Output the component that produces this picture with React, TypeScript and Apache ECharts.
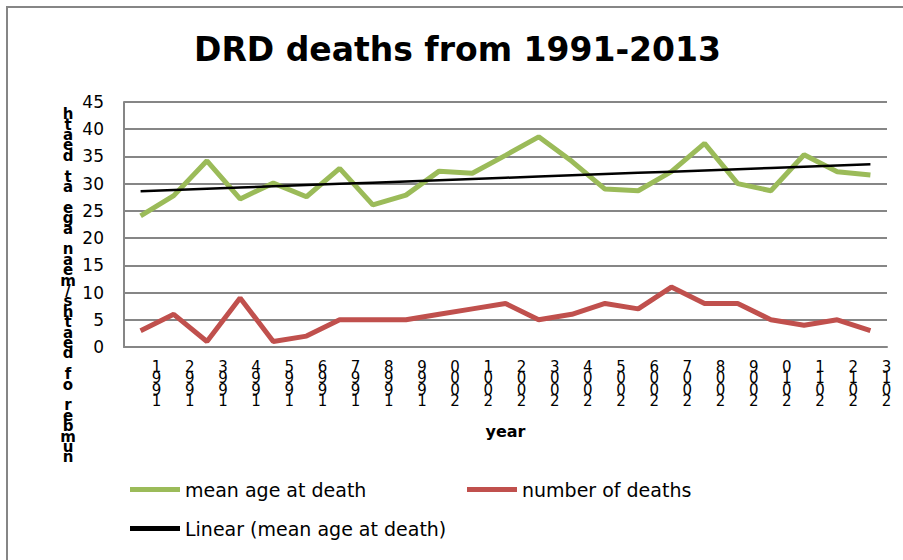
import React, { useEffect, useRef } from 'react';
import * as echarts from 'echarts';

const years = ['1991', '1992', '1993', '1994', '1995', '1996', '1997', '1998', '1999', '2000', '2001', '2002', '2003', '2004', '2005', '2006', '2007', '2008', '2009', '2010', '2011', '2012', '2013'];
const meanAgeAtDeath = [24.1, 27.8, 34.2, 27.2, 30.1, 27.6, 32.8, 26.1, 27.9, 32.3, 31.9, 35.2, 38.6, 34.1, 29.0, 28.7, 32.2, 37.4, 30.0, 28.7, 35.3, 32.2, 31.6];
const numberOfDeaths = [3, 6, 1, 9, 1, 2, 5, 5, 5, 6, 7, 8, 5, 6, 8, 7, 11, 8, 8, 5, 4, 5, 3];
const yMin = 0;
const yMax = 45;
const yStep = 5;

const titleText = 'DRD deaths from 1991-2013';
const yAxisTitle = 'number of deaths/mean age at death';
const xAxisTitle = 'year';
const nameMean = 'mean age at death';
const nameDeaths = 'number of deaths';
const nameTrend = 'Linear (mean age at death)';

// least-squares linear trend of the mean age series (Excel "Linear" trendline)
function linearTrend(vals: number[]): number[] {
  const n = vals.length;
  let sx = 0, sy = 0, sxx = 0, sxy = 0;
  vals.forEach((v, i) => { sx += i; sy += v; sxx += i * i; sxy += i * v; });
  const b = (n * sxy - sx * sy) / (n * sxx - sx * sx);
  const a = (sy - b * sx) / n;
  return vals.map((_, i) => +(a + b * i).toFixed(3));
}

const FONT = '"DejaVu Sans", sans-serif';

export default function App() {
  const ref = useRef<HTMLDivElement>(null);
  useEffect(() => {
    document.body.style.margin = '0';
    if (!ref.current) return;
    const chart = echarts.init(ref.current, null, { renderer: 'svg' });
    const trend = linearTrend(meanAgeAtDeath);
    const legendBase = {
      icon: 'rect',
      itemWidth: 50,
      itemHeight: 5,
      padding: 0,
      itemGap: 0,
      selectedMode: false,
      textStyle: { fontFamily: FONT, fontSize: 19, color: '#000' },
    };
    chart.setOption({
      animation: false,
      backgroundColor: '#fff',
      title: {
        text: titleText,
        left: 194,
        top: 33,
        padding: 0,
        textStyle: { fontFamily: FONT, fontSize: 33, fontWeight: 'bold', color: '#000' },
      },
      legend: [
        { ...legendBase, left: 130, top: 480, data: [nameMean] },
        { ...legendBase, left: 467, top: 480, data: [nameDeaths] },
        { ...legendBase, left: 130, top: 519, data: [nameTrend] },
      ],
      grid: { left: 124, right: 16, top: 102, bottom: 213, containLabel: false },
      xAxis: {
        type: 'category',
        data: years,
        boundaryGap: true,
        name: xAxisTitle,
        nameLocation: 'middle',
        nameGap: 76,
        nameTextStyle: { fontFamily: FONT, fontSize: 16, fontWeight: 'bold', color: '#000' },
        axisLine: { show: true, lineStyle: { color: '#868686', width: 2 } },
        axisTick: { show: false },
        axisLabel: {
          interval: 0,
          formatter: (v: string) => v.split('').reverse().join('\n'),
          fontFamily: FONT,
          fontSize: 15,
          lineHeight: 11.5,
          margin: 14,
          padding: [0, 0, 0, 32],
          color: '#000',
        },
        splitLine: { show: false },
      },
      yAxis: {
        type: 'value',
        min: yMin,
        max: yMax,
        interval: yStep,
        axisLine: { show: true, lineStyle: { color: '#868686', width: 2 } },
        axisTick: { show: false },
        axisLabel: { fontFamily: FONT, fontSize: 17, margin: 20, color: '#000' },
        splitLine: { show: true, lineStyle: { color: '#868686', width: 2 } },
      },
      graphic: [
        {
          type: 'rect',
          silent: true,
          shape: { x: 7, y: 7, width: 1200, height: 1200 },
          style: { fill: 'none', stroke: '#868686', lineWidth: 2 },
        },
        {
          type: 'text',
          silent: true,
          x: 68,
          y: 109,
          style: {
            text: yAxisTitle.split('').reverse().join('\n'),
            fontFamily: FONT,
            fontSize: 15,
            fontWeight: 'bold',
            lineHeight: 10.4,
            fill: '#000',
            align: 'center',
            verticalAlign: 'top',
          },
        },
      ],
      series: [
        {
          name: nameMean,
          type: 'line',
          data: meanAgeAtDeath,
          symbol: 'none',
          lineStyle: { color: '#9BBB59', width: 5 },
          itemStyle: { color: '#9BBB59' },
          emphasis: { disabled: true },
        },
        {
          name: nameDeaths,
          type: 'line',
          data: numberOfDeaths,
          symbol: 'none',
          lineStyle: { color: '#C0504D', width: 5 },
          itemStyle: { color: '#C0504D' },
          emphasis: { disabled: true },
        },
        {
          name: nameTrend,
          type: 'line',
          data: trend,
          symbol: 'none',
          lineStyle: { color: '#000', width: 2.5 },
          itemStyle: { color: '#000' },
          emphasis: { disabled: true },
        },
      ],
    });
    return () => chart.dispose();
  }, []);
  return <div ref={ref} style={{ width: 903, height: 560 }} />;
}
